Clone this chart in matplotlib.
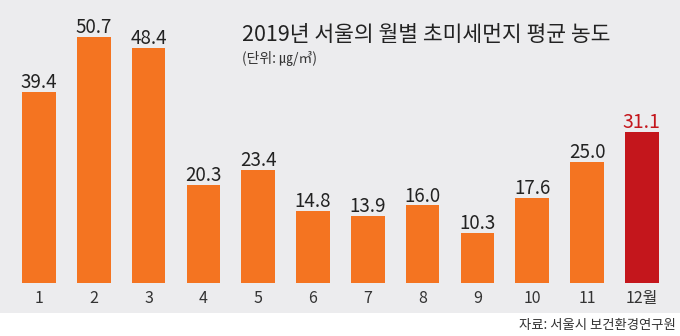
import matplotlib.pyplot as plt
from matplotlib.patches import Rectangle

plt.rcParams['font.family'] = ['Noto Sans CJK KR', 'DejaVu Sans']

months = ['1', '2', '3', '4', '5', '6', '7', '8', '9', '10', '11', '12월']
values = [39.4, 50.7, 48.4, 20.3, 23.4, 14.8, 13.9, 16.0, 10.3, 17.6, 25.0, 31.1]

orange = '#f47421'
red = '#c4161c'
panel = '#ececee'

fig = plt.figure(figsize=(6.8, 3.36), dpi=100)
fig.patch.set_facecolor('white')

# gray panel behind the chart
fig.patches.append(Rectangle((0, 1 - 313 / 336), 1, 313 / 336,
                             transform=fig.transFigure, facecolor=panel,
                             edgecolor='none', zorder=-10))

ax = fig.add_axes([0, (336 - 283) / 336, 1, 283 / 336])
ax.set_facecolor('none')
ax.set_zorder(1)

x = list(range(1, len(values) + 1))
colors = [orange] * (len(values) - 1) + [red]
ax.bar(x, values, width=0.61, color=colors)

for xi, v, c in zip(x, values, colors):
    ax.text(xi, v + 0.8, f'{v:.1f}', ha='center', va='baseline',
            fontsize=13.5 if c != red else 14,
            color=red if c == red else '#222222')

ax.set_xlim(0.288, 12.697)
ax.set_ylim(0, 58.35)
ax.axis('off')

for xi, m in zip(x, months):
    ax.text(xi, -3.2, m, ha='center', va='center', fontsize=11.5,
            color='#333333', clip_on=False)

fig.text(242 / 680, 1 - 35 / 336, '2019년 서울의 월별 초미세먼지 평균 농도',
         fontsize=15.5, fontweight='medium', color='#222222', va='center', ha='left')
fig.text(242 / 680, 1 - 58 / 336, '(단위: ㎍/㎥)',
         fontsize=10, color='#333333', va='center', ha='left')
fig.text(676 / 680, 1 - 325 / 336, '자료: 서울시 보건환경연구원',
         fontsize=9.6, color='#333333', va='center', ha='right')

fig.savefig('out.png', dpi=100)
